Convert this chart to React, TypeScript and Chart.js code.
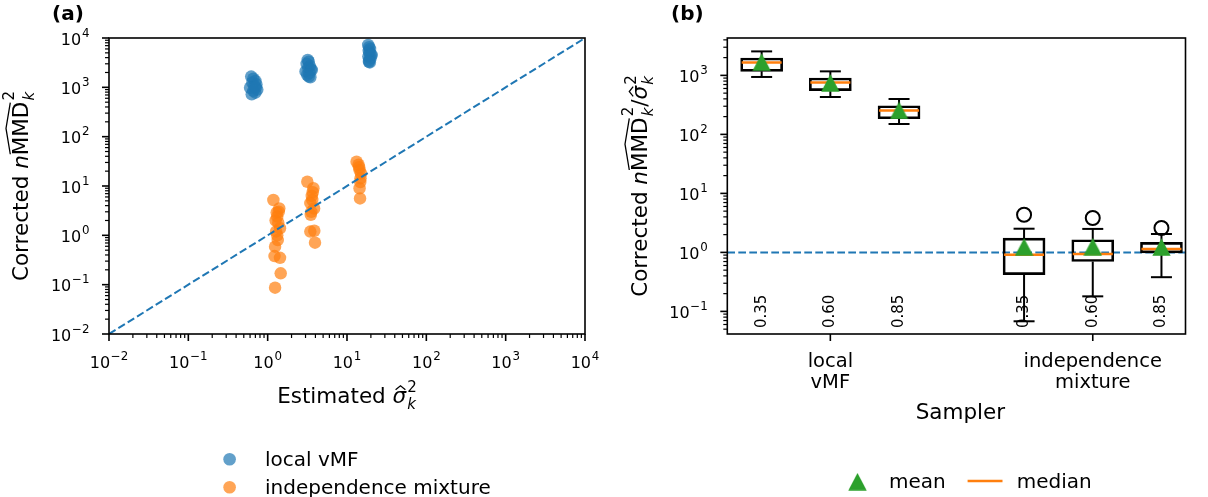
import { useEffect, useRef } from 'react';
import { Chart, registerables } from 'chart.js';
Chart.register(...registerables);

const FONT_FAMILY = "'DejaVu Sans', 'Liberation Sans', sans-serif";
const BLUE = '#1f77b4';
const ORANGE = '#ff7f0e';
const GREEN = '#2ca02c';
const BLUE_A = 'rgba(31,119,180,0.7)';
const ORANGE_A = 'rgba(255,127,14,0.7)';

// ---------------- Panel (a): scatter ----------------
const seriesNamesA = ['local vMF', 'independence mixture'];
const vmfSigma = [0.62, 0.66, 0.7, 0.64, 0.72, 0.68, 0.6, 0.74, 0.66, 0.7, 0.63, 0.71,
  3.2, 3.3, 3.1, 3.4, 3.25, 3.5, 3.0, 3.35, 3.6, 3.15, 3.3, 3.45,
  18.5, 19, 19.5, 18.8, 19.2, 20, 18.6, 19.8, 20.5, 19, 18.9, 19.4];
const vmfMmd = [1650, 1500, 1350, 1250, 1150, 1050, 980, 900, 850, 780, 720, 1000,
  3600, 3300, 3000, 2700, 2500, 2300, 2100, 1950, 2250, 1800, 1650, 1600,
  7200, 6500, 6000, 5500, 5000, 4600, 4200, 3900, 4500, 3500, 3300, 3200];
const mixSigma = [1.18, 1.4, 1.32, 1.3, 1.43, 1.32, 1.36, 1.24, 1.22, 1.43, 1.46, 1.24, 1.28, 1.38, 1.26, 1.34,
  3.16, 3.77, 3.6, 3.45, 3.85, 3.5, 3.45, 3.87, 3.95, 3.7, 3.55, 3.65,
  13.2, 14.4, 14.8, 14.4, 14.6, 14.0, 15.0, 14.2, 14.7];
const mixMmd = [5.2, 3.5, 2.4, 2.9, 1.39, 1.0, 1.8, 0.59, 0.38, 0.35, 0.17, 0.087, 1.2, 3.0, 2.0, 0.8,
  12.2, 9.0, 6.3, 4.5, 3.5, 2.6, 1.19, 1.24, 0.71, 7.5, 3.0, 5.2,
  31, 21, 14.3, 9.0, 5.6, 27, 18, 24, 12];
const panelALimits = [0.01, 10000];
const panelAExponents = [-2, -1, 0, 1, 2, 3, 4];

// ---------------- Panel (b): box plot ----------------
const boxPositions = [1, 2, 3, 4.82, 5.82, 6.82];
const boxTickLabels = ['0.35', '0.60', '0.85', '0.35', '0.60', '0.85'];
const samplerNames = [['local', 'vMF'], ['independence', 'mixture']];
const samplerPositions = [2, 5.82];
const whiskerLow = [940, 430, 150, 0.068, 0.18, 0.38];
const quartile1 = [1170, 550, 184, 0.42, 0.7, 0.98];
const medians = [1660, 761, 255, 0.91, 0.94, 1.14];
const quartile3 = [1970, 903, 306, 1.75, 1.64, 1.48];
const whiskerHigh = [2550, 1170, 398, 2.52, 2.5, 2.05];
const means = [1680, 745, 255, 1.24, 1.25, 1.23];
const outlierPositions = [4.82, 5.82, 6.82];
const outlierValues = [4.35, 3.83, 2.59];
const panelBYLimits = [0.0414, 4300];
const panelBXLimits = [0.5, 7.17];
const panelBExponents = [-1, 0, 1, 2, 3];
const referenceValueB = 1;
const legendNamesB = ['mean', 'median'];
const boxLabelValue = 0.1;

// ---------------- text helpers ----------------
type Piece = { t: string; it?: boolean; hat?: 'wide' | 'narrow'; sup?: string; sub?: string; rise?: number; drop?: number; scale?: number };

function fnt(size: number, italic = false, bold = false) {
  return `${italic ? 'italic ' : ''}${bold ? 'bold ' : ''}${size}px ${FONT_FAMILY}`;
}

function layoutMath(ctx: CanvasRenderingContext2D, pieces: Piece[], size: number) {
  let w = 0;
  const items = pieces.map((p) => {
    const small = size * (p.scale ?? 0.7);
    ctx.font = fnt(size, p.it);
    const mw = ctx.measureText(p.t).width;
    let sw = 0;
    if (p.sup) { ctx.font = fnt(small); sw = Math.max(sw, ctx.measureText(p.sup).width); }
    if (p.sub) { ctx.font = fnt(small, true); sw = Math.max(sw, ctx.measureText(p.sub).width); }
    const gap = p.sup || p.sub ? size * 0.05 : 0;
    const item = { p, x: w, mw, sw, gap, small };
    w += mw + gap + sw;
    return item;
  });
  return { items, width: w };
}

function drawMath(ctx: CanvasRenderingContext2D, pieces: Piece[], x: number, y: number, size: number, align: 'left' | 'center' | 'right') {
  const { items, width } = layoutMath(ctx, pieces, size);
  const x0 = align === 'left' ? x : align === 'center' ? x - width / 2 : x - width;
  ctx.textAlign = 'left';
  ctx.textBaseline = 'alphabetic';
  ctx.fillStyle = '#000';
  ctx.strokeStyle = '#000';
  for (const it of items) {
    const px = x0 + it.x;
    ctx.font = fnt(size, it.p.it);
    ctx.fillText(it.p.t, px, y);
    if (it.p.hat === 'wide') {
      const base = y - size * 0.8;
      ctx.beginPath();
      ctx.moveTo(px + 1, base);
      ctx.lineTo(px + it.mw / 2, base - size * 0.2);
      ctx.lineTo(px + it.mw - 1, base);
      ctx.lineWidth = size * 0.06;
      ctx.stroke();
    } else if (it.p.hat === 'narrow') {
      const base = y - size * 0.62;
      const cx = px + it.mw * 0.58;
      const hw = it.mw * 0.36;
      ctx.beginPath();
      ctx.moveTo(cx - hw, base);
      ctx.lineTo(cx, base - size * 0.18);
      ctx.lineTo(cx + hw, base);
      ctx.lineWidth = size * 0.06;
      ctx.stroke();
    }
    const sx = px + it.mw + it.gap;
    if (it.p.sup) { ctx.font = fnt(it.small); ctx.fillText(it.p.sup, sx, y - size * (it.p.rise ?? 0.51)); }
    if (it.p.sub) { ctx.font = fnt(it.small, true); ctx.fillText(it.p.sub, sx, y + size * (it.p.drop ?? 0.25)); }
  }
}

function expText(e: number) {
  return e < 0 ? '\u2212' + Math.abs(e) : String(e);
}

function line(ctx: CanvasRenderingContext2D, x1: number, y1: number, x2: number, y2: number, w: number) {
  ctx.beginPath();
  ctx.moveTo(x1, y1);
  ctx.lineTo(x2, y2);
  ctx.lineWidth = w;
  ctx.strokeStyle = '#000';
  ctx.stroke();
}

const TICK_MAJOR = 7;
const TICK_MINOR = 4;
const TICK_FONT = 16;

function tickPieces(e: number): Piece[] {
  return [{ t: '10', sup: expText(e), scale: 0.74, rise: 0.5 }];
}

function drawLogYAxis(ctx: CanvasRenderingContext2D, ys: any, ca: any, exps: number[], lo: number, hi: number) {
  for (const e of exps) {
    const py = ys.getPixelForValue(Math.pow(10, e));
    line(ctx, ca.left, py, ca.left - TICK_MAJOR, py, 1.6);
    drawMath(ctx, tickPieces(e), ca.left - 19.5, py + 6.7, TICK_FONT, 'right');
  }
  for (let e = exps[0] - 1; e <= exps[exps.length - 1]; e++) {
    for (let m = 2; m <= 9; m++) {
      const v = m * Math.pow(10, e);
      if (v < lo || v > hi) continue;
      const py = ys.getPixelForValue(v);
      line(ctx, ca.left, py, ca.left - TICK_MINOR, py, 1.2);
    }
  }
}

// ---------------- plugins ----------------
const panelAPlugin = {
  id: 'panelA',
  afterDraw(chart: any) {
    const { ctx, chartArea: ca } = chart;
    const xs = chart.scales.x;
    const ys = chart.scales.y;
    ctx.save();
    ctx.lineWidth = 1.6;
    ctx.strokeStyle = '#000';
    ctx.strokeRect(ca.left, ca.top, ca.right - ca.left, ca.bottom - ca.top);
    drawLogYAxis(ctx, ys, ca, panelAExponents, panelALimits[0], panelALimits[1]);
    for (const e of panelAExponents) {
      const px = xs.getPixelForValue(Math.pow(10, e));
      line(ctx, px, ca.bottom, px, ca.bottom + TICK_MAJOR, 1.6);
      drawMath(ctx, tickPieces(e), px, ca.bottom + 33.5, TICK_FONT, 'center');
      if (e < panelAExponents[panelAExponents.length - 1]) {
        for (let m = 2; m <= 9; m++) {
          const mx = xs.getPixelForValue(m * Math.pow(10, e));
          line(ctx, mx, ca.bottom, mx, ca.bottom + TICK_MINOR, 1.2);
        }
      }
    }
    // panel label
    ctx.font = fnt(20, false, true);
    ctx.fillStyle = '#000';
    ctx.textAlign = 'left';
    ctx.textBaseline = 'alphabetic';
    ctx.fillText('(a)', 52, 20);
    // x title
    drawMath(ctx, [{ t: 'Estimated ' }, { t: '\u03c3', it: true, hat: 'narrow', sup: '2', sub: 'k', rise: 0.5, drop: 0.28 }],
      (ca.left + ca.right) / 2, 403, 21.5, 'center');
    // y title
    ctx.save();
    ctx.translate(27.5, (ca.top + ca.bottom) / 2);
    ctx.rotate(-Math.PI / 2);
    drawMath(ctx, [{ t: 'Corrected ' }, { t: 'n', it: true }, { t: 'MMD', hat: 'wide', sup: '2', sub: 'k', rise: 0.62, drop: 0.28 }], 0, 0, 21.5, 'center');
    ctx.restore();
    // legend
    const colors = [BLUE_A, ORANGE_A];
    const ys2 = [459.3, 487.3];
    seriesNamesA.forEach((name, i) => {
      ctx.beginPath();
      ctx.arc(229.6, ys2[i], 6.3, 0, Math.PI * 2);
      ctx.fillStyle = colors[i];
      ctx.fill();
      ctx.font = fnt(20);
      ctx.fillStyle = '#000';
      ctx.textAlign = 'left';
      ctx.fillText(name, 265, ys2[i] + 6.5);
    });
    ctx.restore();
  },
};

function makeTriangle() {
  const c = document.createElement('canvas');
  c.width = 19;
  c.height = 18;
  const g = c.getContext('2d')!;
  g.beginPath();
  g.moveTo(9.5, 0.3);
  g.lineTo(0.3, 17.7);
  g.lineTo(18.7, 17.7);
  g.closePath();
  g.fillStyle = GREEN;
  g.fill();
  return c;
}

const whiskerPlugin = {
  id: 'whiskers',
  beforeDatasetsDraw(chart: any) {
    const { ctx } = chart;
    const xs = chart.scales.x;
    const ys = chart.scales.y;
    ctx.save();
    boxPositions.forEach((p, i) => {
      const x = xs.getPixelForValue(p);
      const yLo = ys.getPixelForValue(whiskerLow[i]);
      const yQ1 = ys.getPixelForValue(quartile1[i]);
      const yQ3 = ys.getPixelForValue(quartile3[i]);
      const yHi = ys.getPixelForValue(whiskerHigh[i]);
      line(ctx, x, yQ1, x, yLo, 2);
      line(ctx, x - 10.5, yLo, x + 10.5, yLo, 2);
      line(ctx, x, yQ3, x, yHi, 2);
      line(ctx, x - 10.5, yHi, x + 10.5, yHi, 2);
    });
    ctx.restore();
  },
};

function panelBPlugin(tri: HTMLCanvasElement) {
  return {
    id: 'panelB',
    afterDraw(chart: any) {
      const { ctx, chartArea: ca } = chart;
      const xs = chart.scales.x;
      const ys = chart.scales.y;
      ctx.save();
      // box labels
      boxPositions.forEach((p, i) => {
        ctx.save();
        ctx.translate(xs.getPixelForValue(p), ys.getPixelForValue(boxLabelValue));
        ctx.rotate(-Math.PI / 2);
        ctx.font = fnt(15);
        ctx.fillStyle = '#000';
        ctx.textAlign = 'center';
        ctx.textBaseline = 'middle';
        ctx.fillText(boxTickLabels[i], 0, 0);
        ctx.restore();
      });
      ctx.lineWidth = 1.6;
      ctx.strokeStyle = '#000';
      ctx.strokeRect(ca.left, ca.top, ca.right - ca.left, ca.bottom - ca.top);
      drawLogYAxis(ctx, ys, ca, panelBExponents, panelBYLimits[0], panelBYLimits[1]);
      samplerPositions.forEach((p, i) => {
        const px = xs.getPixelForValue(p);
        line(ctx, px, ca.bottom, px, ca.bottom + TICK_MAJOR, 1.6);
        ctx.font = fnt(19.5);
        ctx.fillStyle = '#000';
        ctx.textAlign = 'center';
        ctx.textBaseline = 'alphabetic';
        samplerNames[i].forEach((s, j) => ctx.fillText(s, px, 366.7 + j * 21.3));
      });
      ctx.font = fnt(20, false, true);
      ctx.textAlign = 'left';
      ctx.fillText('(b)', 71, 20);
      ctx.font = fnt(21.5);
      ctx.textAlign = 'center';
      ctx.fillText('Sampler', (ca.left + ca.right) / 2 + 4, 419);
      ctx.save();
      ctx.translate(46.5, (ca.top + ca.bottom) / 2);
      ctx.rotate(-Math.PI / 2);
      drawMath(ctx, [
        { t: 'Corrected ' }, { t: 'n', it: true },
        { t: 'MMD', hat: 'wide', sup: '2', sub: 'k', rise: 0.62, drop: 0.28 },
        { t: '/' },
        { t: '\u03c3', it: true, hat: 'narrow', sup: '2', sub: 'k', rise: 0.5, drop: 0.28 },
      ], 0, 0, 21.5, 'center');
      ctx.restore();
      // legend
      ctx.drawImage(tri, 257.5 - tri.width / 2, 481.7 - tri.height / 2);
      ctx.font = fnt(20);
      ctx.fillStyle = '#000';
      ctx.textAlign = 'left';
      ctx.fillText(legendNamesB[0], 289, 488);
      ctx.beginPath();
      ctx.moveTo(367.6, 481);
      ctx.lineTo(402.5, 481);
      ctx.strokeStyle = ORANGE;
      ctx.lineWidth = 2.5;
      ctx.stroke();
      ctx.fillText(legendNamesB[1], 416.8, 488);
      ctx.restore();
    },
  };
}

export default function App() {
  const refA = useRef<HTMLCanvasElement>(null);
  const refB = useRef<HTMLCanvasElement>(null);

  useEffect(() => {
    const tri = makeTriangle();
    const chartA = new Chart(refA.current as HTMLCanvasElement, {
      type: 'scatter',
      data: {
        datasets: [
          {
            type: 'line',
            label: 'y = x',
            data: panelALimits.map((v) => ({ x: v, y: v })),
            borderColor: BLUE,
            borderWidth: 2,
            borderDash: [7.7, 3.3],
            pointRadius: 0,
            fill: false,
          } as any,
          {
            label: seriesNamesA[1],
            data: mixSigma.map((s, i) => ({ x: s, y: mixMmd[i] })),
            backgroundColor: ORANGE_A,
            borderWidth: 0,
            pointRadius: 6.25,
          },
          {
            label: seriesNamesA[0],
            data: vmfSigma.map((s, i) => ({ x: s, y: vmfMmd[i] })),
            backgroundColor: BLUE_A,
            borderWidth: 0,
            pointRadius: 6.25,
          },
        ],
      },
      options: {
        animation: false,
        responsive: false,
        devicePixelRatio: 1,
        events: [],
        layout: { padding: { left: 109, right: 55, top: 38, bottom: 163 } },
        plugins: { legend: { display: false }, tooltip: { enabled: false } },
        scales: {
          x: { type: 'logarithmic', min: panelALimits[0], max: panelALimits[1], display: false, bounds: 'data' },
          y: { type: 'logarithmic', min: panelALimits[0], max: panelALimits[1], display: false, bounds: 'data' },
        },
      } as any,
      plugins: [panelAPlugin],
    });

    const chartB = new Chart(refB.current as HTMLCanvasElement, {
      type: 'scatter',
      data: {
        datasets: [
          {
            label: legendNamesB[0],
            data: boxPositions.map((p, i) => ({ x: p, y: means[i] })),
            pointStyle: tri,
            pointRadius: 9,
          },
          {
            label: legendNamesB[1],
            data: boxPositions.map((p, i) => ({ x: p, y: medians[i] })),
            pointStyle: 'line',
            pointRadius: 20,
            borderColor: ORANGE,
            pointBorderColor: ORANGE,
            pointBorderWidth: 2.5,
            borderWidth: 2.5,
          },
          {
            label: 'outliers',
            data: outlierPositions.map((p, i) => ({ x: p, y: outlierValues[i] })),
            pointStyle: 'circle',
            pointRadius: 7,
            backgroundColor: 'rgba(0,0,0,0)',
            borderColor: '#000',
            pointBorderWidth: 2,
            borderWidth: 2,
          },
          {
            type: 'bar',
            label: 'IQR',
            data: boxPositions.map((p, i) => ({ x: p, y: [quartile1[i], quartile3[i]] })),
            barThickness: 42,
            backgroundColor: 'rgba(0,0,0,0)',
            borderColor: '#000',
            borderWidth: 2,
            borderSkipped: false,
          } as any,
          {
            type: 'line',
            label: 'reference',
            data: panelBXLimits.map((x) => ({ x, y: referenceValueB })),
            borderColor: BLUE,
            borderWidth: 2,
            borderDash: [7.7, 3.3],
            pointRadius: 0,
            fill: false,
          } as any,
        ],
      },
      options: {
        animation: false,
        responsive: false,
        devicePixelRatio: 1,
        events: [],
        layout: { padding: { left: 127.3, right: 15.5, top: 38, bottom: 163 } },
        plugins: { legend: { display: false }, tooltip: { enabled: false } },
        scales: {
          x: { type: 'linear', min: panelBXLimits[0], max: panelBXLimits[1], display: false, offset: false, bounds: 'data' },
          y: { type: 'logarithmic', min: panelBYLimits[0], max: panelBYLimits[1], display: false, bounds: 'data' },
        },
      } as any,
      plugins: [whiskerPlugin, panelBPlugin(tri)],
    });

    return () => {
      chartA.destroy();
      chartB.destroy();
    };
  }, []);

  return (
    <div style={{ position: 'absolute', left: 0, top: 0, width: 1208, height: 497, background: '#fff' }}>
      <canvas ref={refA} width={640} height={497} style={{ position: 'absolute', left: 0, top: 0, width: 640, height: 497 }} />
      <canvas ref={refB} width={608} height={497} style={{ position: 'absolute', left: 600, top: 0, width: 608, height: 497 }} />
    </div>
  );
}
